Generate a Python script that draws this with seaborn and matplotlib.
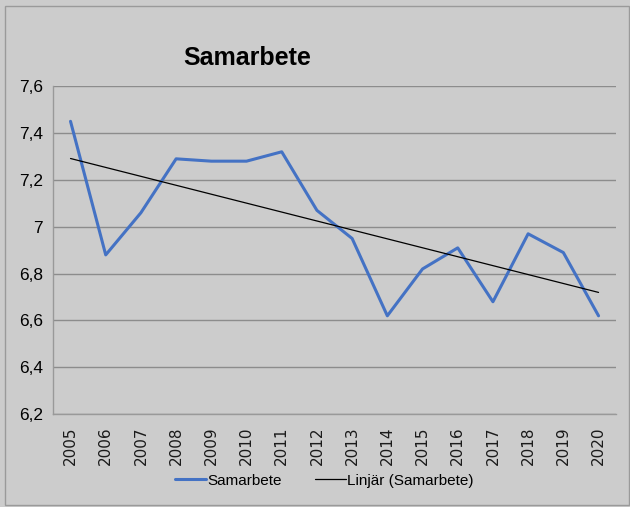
import numpy as np
import pandas as pd
import matplotlib
matplotlib.use('Agg')
import matplotlib.pyplot as plt
from matplotlib.patches import Rectangle
from matplotlib.lines import Line2D
import seaborn as sns

# data
years = list(range(2005, 2021))
samarbete = [7.45, 6.88, 7.06, 7.29, 7.28, 7.28, 7.32, 7.07,
             6.95, 6.62, 6.82, 6.91, 6.68, 6.97, 6.89, 6.62]
yticks = [6.2, 6.4, 6.6, 6.8, 7.0, 7.2, 7.4, 7.6]
ytick_labels = ['6,2', '6,4', '6,6', '6,8', '7', '7,2', '7,4', '7,6']

df = pd.DataFrame({'year': years, 'Samarbete': samarbete})

sns.set_style('white')
plt.rcParams['font.family'] = ['Liberation Sans', 'DejaVu Sans']
plt.rcParams['text.color'] = 'black'
plt.rcParams['xtick.color'] = 'black'
plt.rcParams['ytick.color'] = 'black'

bg = '#cccccc'
fig = plt.figure(figsize=(6.3, 5.07), dpi=100, facecolor=bg)
ax = fig.add_axes([0.084, 0.183, 0.894, 0.647])
ax.set_facecolor(bg)

sns.lineplot(data=df, x='year', y='Samarbete', ax=ax, color='#4472c4', linewidth=2.2)
sns.regplot(data=df, x='year', y='Samarbete', ax=ax, scatter=False, ci=None,
            truncate=True, line_kws={'color': 'black', 'linewidth': 0.9})

ax.set_xlim(2004.5, 2020.5)
ax.set_ylim(6.2, 7.6)
ax.set_yticks(yticks)
ax.set_yticklabels(ytick_labels, fontsize=12.5)
ax.set_xticks(years)
ax.set_xticklabels([str(y) for y in years], rotation=90, fontsize=11,
                   family='DejaVu Sans', color='#1a1a1a')
ax.set_xticks(np.arange(2004.5, 2021, 1), minor=True)
ax.tick_params(axis='x', which='major', length=0, pad=9)
ax.tick_params(axis='x', which='minor', length=5, color='#999999', direction='out')
ax.tick_params(axis='y', length=4, color='#999999', direction='out', pad=3)
ax.grid(axis='y', color='#8c8c8c', linewidth=1)
ax.set_axisbelow(True)
for s in ['top', 'right']:
    ax.spines[s].set_visible(False)
for s in ['left', 'bottom']:
    ax.spines[s].set_color('#999999')
    ax.spines[s].set_linewidth(1)
ax.set_xlabel('')
ax.set_ylabel('')

fig.text(0.392, 0.885, 'Samarbete', fontsize=18, fontweight='bold', ha='center', va='center')

handles = [Line2D([], [], color='#4472c4', linewidth=2.2),
           Line2D([], [], color='black', linewidth=0.9)]
fig.legend(handles, ['Samarbete', 'Linjär (Samarbete)'], loc='center',
           bbox_to_anchor=(0.515, 0.052), ncol=2, frameon=False, fontsize=11,
           handlelength=2.0, columnspacing=2.2, handletextpad=0.1)

fig.patches.append(Rectangle((0.008, 0.004), 0.99, 0.984, transform=fig.transFigure,
                             fill=False, edgecolor='#9a9a9a', linewidth=1))

fig.savefig('out.png', dpi=100, facecolor=bg)
